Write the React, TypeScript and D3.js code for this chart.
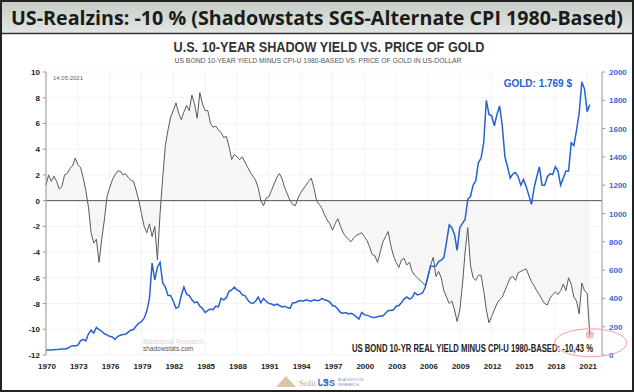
import React from 'react';
import * as d3 from 'd3';

// x axis labels (every 3 years)
const yearTicks = [1970, 1973, 1976, 1979, 1982, 1985, 1988, 1991, 1994, 1997, 2000, 2003, 2006, 2009, 2012, 2015, 2018, 2021];
const yieldTicks = [10, 8, 6, 4, 2, 0, -2, -4, -6, -8, -10, -12];
const goldTicks = [2000, 1800, 1600, 1400, 1200, 1000, 800, 600, 400, 200, 0];

const startYear = 1970;
const perYear = 4; // quarterly readings

// US bond 10y yield minus CPI-U (1980-based), %
const realYield = [
  1.2, 2.0, 1.5, 1.9, 1.5, 0.9, 1.1, 2.0, 2.1, 2.5, 2.7, 3.3, 2.8, 2.6, 1.8, 0.8,
  -0.5, -2.5, -3.3, -3.0, -4.8, -3.0, -1.5, 0.3, 1.0, 1.6, 2.0, 2.3, 2.3, 2.0, 2.1, 1.8,
  1.6, 1.5, 0.8, 0.0, -1.0, -2.0, -2.5, -1.8, -2.8, -2.0, -4.6, -1.0, 1.8, 4.3, 5.5, 6.5,
  7.0, 7.6, 6.8, 6.3, 6.9, 7.4, 7.0, 8.2, 7.5, 6.4, 8.4, 7.5, 7.0, 7.0, 6.0, 5.7,
  5.8, 5.5, 5.3, 4.9, 5.0, 4.2, 3.2, 3.6, 3.4, 3.2, 3.4, 3.0, 2.6, 2.2, 1.9, 1.6,
  1.0, 0.0, -0.4, 0.2, 0.3, 0.8, 1.3, 1.8, 2.1, 1.7, 1.0, 0.5, 0.0, -0.3, -0.4, 0.2,
  0.6, 0.9, 1.2, 1.5, 1.75, 1.0, 0.0, -0.3, -0.6, -1.1, -1.5, -1.8, -2.3, -1.8, -1.4, -2.0,
  -2.5, -2.8, -3.0, -3.2, -2.9, -2.7, -2.6, -2.5, -2.8, -3.1, -3.6, -4.2, -4.3, -4.8, -4.0, -3.2,
  -2.8, -2.4, -3.5, -4.3, -4.8, -5.2, -4.6, -4.5, -5.0, -4.8, -5.5, -5.8, -6.0, -6.2, -6.4, -6.6,
  -6.0, -5.0, -4.4, -5.9, -5.5, -6.0, -7.0, -7.5, -8.0, -7.8, -8.5, -9.4, -8.5, -6.5, -4.0, -2.1,
  -5.0, -6.0, -6.2, -5.8, -5.8, -7.0, -8.5, -9.5, -9.0, -8.5, -8.0, -7.7, -7.5, -7.0, -6.5, -6.0,
  -5.9, -6.2, -5.6, -5.5, -5.4, -5.3, -5.8, -6.3, -6.6, -7.0, -7.3, -7.7, -8.0, -8.1, -7.6, -7.3,
  -7.1, -7.3, -7.0, -6.5, -7.0, -6.0, -6.5, -7.5, -7.8, -8.8, -6.4, -7.0, -7.2, -10.43,
];

// gold price in US-dollar
const goldPrice = [
  35, 35, 36, 37, 38, 40, 42, 43, 46, 58, 66, 64, 70, 100, 110, 100,
  150, 175, 155, 195, 180, 168, 150, 142, 132, 127, 110, 130, 140, 145, 147, 162,
  175, 180, 205, 225, 235, 260, 310, 400, 650, 530, 620, 655, 510, 480, 420, 420,
  380, 330, 340, 420, 480, 430, 420, 390, 370, 375, 345, 330, 300, 315, 325, 320,
  345, 340, 400, 390, 405, 450, 460, 480, 460, 450, 425, 420, 390, 370, 365, 380,
  410, 370, 400, 380, 365, 360, 350, 360, 350, 340, 345, 335, 330, 370, 370, 380,
  385, 380, 390, 385, 380, 390, 385, 385, 400, 390, 385, 375, 350, 345, 325, 300,
  295, 300, 290, 295, 285, 270, 255, 300, 285, 280, 275, 265, 265, 270, 275, 275,
  295, 315, 315, 320, 345, 350, 370, 395, 410, 395, 405, 440, 425, 430, 440, 480,
  560, 630, 625, 630, 660, 670, 690, 800, 920, 900, 850, 740, 900, 930, 960, 1100,
  1120, 1200, 1230, 1360, 1390, 1500, 1800, 1700, 1690, 1620, 1700, 1760, 1620, 1400, 1330, 1250,
  1280, 1290, 1260, 1200, 1240, 1190, 1130, 1065, 1180, 1260, 1330, 1200, 1200, 1260, 1280, 1275,
  1330, 1300, 1200, 1250, 1300, 1300, 1500, 1480, 1590, 1710, 1930, 1880, 1720, 1769,
];

const W = 634;
const H = 392;
const plot = { left: 46, right: 602, top: 72, bottom: 355 };
const blue = '#2761d3';
const narrow = "'Liberation Sans Narrow', 'Liberation Sans', Arial, sans-serif";
const sans = "'Liberation Sans', Arial, sans-serif";

export default function App() {
  const x = d3.scaleLinear().domain([1970, 2022.4]).range([plot.left, plot.right]);
  const yL = d3.scaleLinear().domain([-12, 10]).range([plot.bottom, plot.top]);
  const yR = d3.scaleLinear().domain([0, 2000]).range([plot.bottom, plot.top]);
  const t = (i: number) => startYear + i / perYear;

  const yieldLine = d3.line<number>().x((_, i) => x(t(i))).y((d) => yL(d));
  const yieldArea = d3.area<number>().x((_, i) => x(t(i))).y0(yL(0)).y1((d) => yL(d));
  const goldLine = d3.line<number>().x((_, i) => x(t(i))).y((d) => yR(d));

  const lastI = realYield.length - 1;
  const endX = x(t(lastI));
  const endY = yL(realYield[lastI]);

  return (
    <svg width={W} height={H} style={{ position: 'fixed', left: 0, top: 0, background: '#fff' }}>
      <defs>
        <linearGradient id="hdr" x1="0" y1="0" x2="0" y2="1">
          <stop offset="0" stopColor="#c3cbc4" />
          <stop offset="1" stopColor="#e4e7e4" />
        </linearGradient>
      </defs>
      <rect x={0} y={0} width={W} height={34} fill="url(#hdr)" />
      <line x1={0} x2={W} y1={33.5} y2={33.5} stroke="#333" strokeWidth={1.5} />
      <text x={W / 2} y={25} textAnchor="middle" fontFamily="'Open Sans', 'Noto Sans', sans-serif" fontWeight={700}
        fontSize={20} fill="#1b1b1b" textLength={612} lengthAdjust="spacingAndGlyphs">
        US-Realzins: -10 % (Shadowstats SGS-Alternate CPI 1980-Based)
      </text>

      <text x={329} y={52} textAnchor="middle" fontFamily={narrow} fontWeight={700} fontSize={14} fill="#333"
        textLength={311} lengthAdjust="spacingAndGlyphs">
        U.S. 10-YEAR SHADOW YIELD VS. PRICE OF GOLD
      </text>
      <text x={318} y={63} textAnchor="middle" fontFamily={narrow} fontSize={7.5} fill="#555"
        textLength={287} lengthAdjust="spacingAndGlyphs">
        US BOND 10-YEAR YIELD MINUS CPI-U 1980-BASED VS. PRICE OF GOLD IN US-DOLLAR
      </text>

      {/* faint grid */}
      {yieldTicks.map((v) => (
        <line key={'gy' + v} x1={plot.left} x2={plot.right} y1={yL(v)} y2={yL(v)} stroke="#f3f3f3" />
      ))}
      {yearTicks.map((yr) => (
        <line key={'gx' + yr} x1={x(yr)} x2={x(yr)} y1={plot.top} y2={plot.bottom} stroke="#f3f3f3" />
      ))}

      <path d={yieldArea(realYield) ?? ''} fill="#f6f6f6" />
      <line x1={plot.left} x2={plot.right} y1={yL(0)} y2={yL(0)} stroke="#555" strokeWidth={1} />

      {/* watermark */}
      <text x={143} y={344} fontFamily={sans} fontSize={6.5} fill="#d6d6d6">Blackstock Research</text>
      <text x={143} y={351} fontFamily={sans} fontSize={6.5} fill="#555">shadowstats.com</text>
      <text x={53} y={80} fontFamily={sans} fontSize={6} fill="#666">14.05.2021</text>

      <path d={yieldLine(realYield) ?? ''} fill="none" stroke="#5a5a5a" strokeWidth={1} />
      <path d={goldLine(goldPrice) ?? ''} fill="none" stroke={blue} strokeWidth={1.5} />

      {/* left axis */}
      <line x1={plot.left} x2={plot.left} y1={plot.top} y2={plot.bottom} stroke="#999" />
      {yieldTicks.map((v) => (
        <g key={'yl' + v}>
          <line x1={plot.left - 3} x2={plot.left} y1={yL(v)} y2={yL(v)} stroke="#999" />
          <text x={plot.left - 6} y={yL(v) + 3} textAnchor="end" fontFamily={sans} fontWeight={700} fontSize={8} fill="#222">
            {v}
          </text>
        </g>
      ))}

      {/* right axis */}
      <line x1={plot.right} x2={plot.right} y1={plot.top} y2={plot.bottom} stroke="#999" />
      {goldTicks.map((v) => (
        <g key={'yr' + v}>
          <line x1={plot.right} x2={plot.right + 3} y1={yR(v)} y2={yR(v)} stroke="#999" />
          <text x={plot.right + 7} y={yR(v) + 3} fontFamily={sans} fontWeight={700} fontSize={8} fill="#3568d4">
            {v}
          </text>
        </g>
      ))}

      {/* bottom labels */}
      {yearTicks.map((yr) => (
        <text key={'xl' + yr} x={x(yr) + 1} y={369} textAnchor="middle" fontFamily={sans} fontWeight={700} fontSize={8} fill="#222">
          {yr}
        </text>
      ))}

      <text x={572} y={87} textAnchor="end" fontFamily={narrow} fontWeight={700} fontSize={10} fill={blue}>
        GOLD: 1.769 $
      </text>
      <text x={593} y={352} textAnchor="end" fontFamily={narrow} fontWeight={700} fontSize={10} fill="#222"
        textLength={241} lengthAdjust="spacingAndGlyphs">
        US BOND 10-YR REAL YIELD MINUS CPI-U 1980-BASED: -10,43 %
      </text>
      <ellipse cx={endX + 1} cy={endY + 8} rx={36} ry={14} fill="none" stroke="#f2a0a0" strokeWidth={1} />
      <circle cx={endX} cy={endY} r={4} fill="#e58a8a" fillOpacity={0.55} />

      {/* footer logos */}
      <polygon points="276,387 286,376 296,387" fill="#d8c7a6" />
      <text x={299} y={386} fontFamily="'Liberation Serif', serif" fontSize={9} fill="#b9a98a">Solit</text>
      <text x={318} y={386} fontFamily={sans} fontWeight={700} fontSize={9} fill="#3a63c4">ᏓᏕS</text>
      <text x={338} y={381} fontFamily={sans} fontSize={3.8} fill="#7a8fbf">BLACKSTOCK</text>
      <text x={338} y={386} fontFamily={sans} fontSize={3.8} fill="#7a8fbf">RESEARCH</text>

      <rect x={1} y={1} width={W - 2} height={H - 2} fill="none" stroke="#222" strokeWidth={2} />
    </svg>
  );
}
